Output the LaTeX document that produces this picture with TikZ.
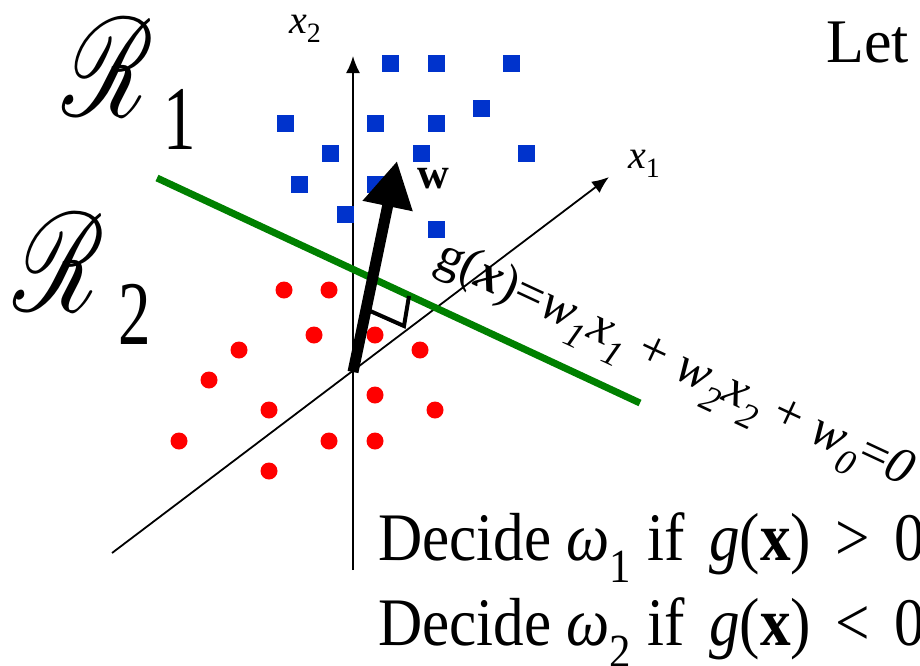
\documentclass[tikz,border=0pt]{standalone}
\usepackage{amsmath}
\usepackage{mathrsfs}
\usepackage{fontspec}
\setmainfont{Liberation Serif}
\usepackage{tikz}
\usetikzlibrary{arrows.meta}

\definecolor{classblue}{RGB}{0,51,204}
\definecolor{classred}{RGB}{255,0,0}
\definecolor{boundgreen}{RGB}{0,128,0}

\newcommand{\fsz}[1]{\fontsize{#1}{#1}\selectfont}

\begin{document}
\begin{tikzpicture}[x=1pt,y=-1pt,>={Latex[length=17pt,width=14pt]},
  axis/.style={line width=1.8pt},
  bluesq/.style={fill=classblue,minimum size=17pt,inner sep=0pt},
  reddot/.style={circle,fill=classred,minimum size=17pt,inner sep=0pt},
  lbl/.style={anchor=base west,inner sep=0pt},
  region/.style={lbl,xscale=10,yscale=14},
  rule/.style={lbl,font=\fsz{68},xscale=0.9}]
  \useasboundingbox (0,0) rectangle (920,665);
  \clip (0,0) rectangle (920,665);

  % axes
  \coordinate (O) at (353,372);
  \coordinate (x2bot) at (353,570);
  \coordinate (x2top) at (353,56);
  \coordinate (x1beg) at (112,553);
  \coordinate (x1end) at (609,177);
  \draw[axis,->] (x2bot) -- (x2top);
  \draw[axis,->] (x1beg) -- (x1end);
  \node[lbl,font=\fsz{40}] (lx2) at (289,33) {\textit{x}\textsubscript{2}};
  \node[lbl,font=\fsz{40}] (lx1) at (628,168) {\textit{x}\textsubscript{1}};

  % class 1 samples
  \foreach \x/\y [count=\i] in {390/63,436/63,511/63,481/108,285/123,375/123,436/123,
      330/153,421/153,526/153,299/184,375/184,345/214,436/229}
    \node[bluesq] (s\i) at (\x,\y) {};

  % class 2 samples
  \foreach \x/\y [count=\i] in {284/290,329/290,314/335,375/335,239/350,420/350,209/380,
      375/395,269/410,435/410,179/441,329/441,375/441,269/471}
    \node[reddot] (d\i) at (\x,\y) {};

  % decision boundary
  \coordinate (b1) at (157,178);
  \coordinate (b2) at (640,403);
  \draw[boundgreen,line width=7pt] (b1) -- (b2);

  % weight vector and right angle
  \coordinate (wtip) at (397,161);
  \draw[line width=11pt,-{Triangle[length=46pt,width=48pt]}] (O) -- (wtip);
  \node[lbl,font=\fsz{44}\bfseries] (lw) at (417,188) {w};
  \coordinate (m1) at (368,310);
  \coordinate (m2) at (404,326);
  \coordinate (m3) at (409,296);
  \draw[line width=4pt] (m1) -- (m2) -- (m3);

  % regions
  \node[region] (r1) at (60,116) {$\mathscr{R}$\hspace{1pt}\raisebox{-2.4pt}{\fsz{6.5}1}};
  \node[region] (r2) at (11,311) {$\mathscr{R}$\hspace{1.4pt}\raisebox{-2.4pt}{\fsz{6.5}2}};

  % texts
  \node[lbl,rotate=-25,font=\fsz{51.5}] (eqn) at (433,266)
    {g(\textbf{\textit{x}})=\textit{w\textsubscript{1}x\textsubscript{1}} +
     \textit{w\textsubscript{2}x\textsubscript{2}} + \textit{w\textsubscript{0}}=\textit{0}};
  \node[lbl,font=\fsz{62}] (let) at (826,62) {Let};
  \node[rule] (dec1) at (378,560)
    {Decide \textit{ω}\textsubscript{1} if\hspace{0.15em} \textit{g}(\textbf{x})\hspace{0.15em} >\hspace{0.15em} 0};
  \node[rule] (dec2) at (378,645)
    {Decide \textit{ω}\textsubscript{2} if\hspace{0.15em} \textit{g}(\textbf{x})\hspace{0.15em} <\hspace{0.15em} 0};
\end{tikzpicture}
\end{document}
